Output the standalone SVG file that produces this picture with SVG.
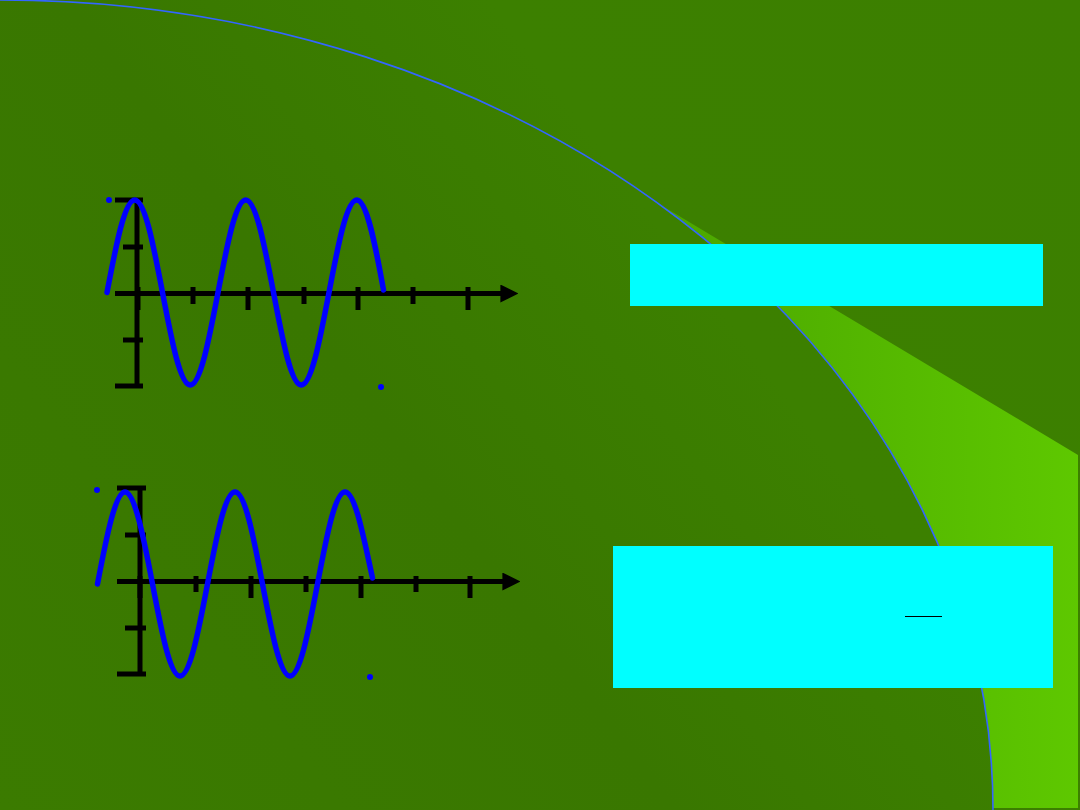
<svg xmlns="http://www.w3.org/2000/svg" width="1080" height="810" viewBox="0 0 1080 810">
<defs>
<linearGradient id="bg" x1="1080" y1="0" x2="0" y2="810" gradientUnits="userSpaceOnUse">
<stop offset="0" stop-color="#3c7f00"/>
<stop offset="0.35" stop-color="#3c8000"/>
<stop offset="0.6" stop-color="#397700"/>
<stop offset="1" stop-color="#3b7b00"/>
</linearGradient>
<linearGradient id="wedge" x1="650" y1="0" x2="1080" y2="0" gradientUnits="userSpaceOnUse">
<stop offset="0" stop-color="#4aa500"/>
<stop offset="1" stop-color="#5ec800"/>
</linearGradient>
<marker id="arr" viewBox="0 0 10 10" refX="2" refY="5" markerWidth="3.6" markerHeight="3.6" markerUnits="strokeWidth" orient="auto">
<path d="M0,0 L10,5 L0,10 z" fill="#000"/>
</marker>
</defs>
<style>
.ax{stroke:#000;stroke-width:5;fill:none}
.tk{stroke:#000;stroke-width:5;fill:none}
.wave{stroke:#0000ff;stroke-width:5.5;fill:none;stroke-linecap:round;stroke-linejoin:round}
.dot{fill:#0000ff}
.box{fill:#00ffff}
</style>
<rect x="0" y="0" width="1080" height="810" fill="url(#bg)"/>
<path d="M654,201 L1078,455 L1078,808 L993,808 A993,810 0 0 0 654,201 Z" fill="url(#wedge)"/>
<path d="M0,0 A993,810 0 0 1 993,810" fill="none" stroke="#3366ff" stroke-width="1.6"/>

<g id="plot1">
<line class="ax" x1="137" y1="199" x2="137" y2="387"/>
<line class="ax" x1="115" y1="200" x2="143" y2="200"/>
<line class="ax" x1="115" y1="386" x2="143" y2="386"/>
<line class="tk" x1="123" y1="247" x2="143" y2="247"/>
<line class="tk" x1="123" y1="340" x2="143" y2="340"/>
<line class="ax" x1="115" y1="293.5" x2="504" y2="293.5" marker-end="url(#arr)"/>
<line class="tk" x1="138" y1="287" x2="138" y2="310"/>
<line class="tk" x1="193" y1="287" x2="193" y2="304"/>
<line class="tk" x1="248" y1="287" x2="248" y2="310"/>
<line class="tk" x1="304" y1="287" x2="304" y2="304"/>
<line class="tk" x1="358" y1="287" x2="358" y2="310"/>
<line class="tk" x1="413" y1="287" x2="413" y2="304"/>
<line class="tk" x1="468" y1="287" x2="468" y2="310"/>
<path class="wave" d="M107,292.5 C116.28,243.93 124.74,200 134.75,200 S153.22,243.93 162.5,292.5 S180.24,385 190.25,385 S208.72,341.07 218,292.5 S235.74,200 245.75,200 S264.22,243.93 273.5,292.5 S291.24,385 301.25,385 S319.72,341.07 329,292.5 S346.74,200 356.75,200 S375.22,243.93 383.5,290"/>
<circle class="dot" cx="109" cy="200" r="3"/>
<circle class="dot" cx="381" cy="387" r="3"/>
</g>

<g id="plot2">
<line class="ax" x1="140" y1="487" x2="140" y2="675"/>
<line class="ax" x1="117" y1="488" x2="146" y2="488"/>
<line class="ax" x1="117" y1="674" x2="146" y2="674"/>
<line class="tk" x1="125" y1="535" x2="146" y2="535"/>
<line class="tk" x1="125" y1="628" x2="146" y2="628"/>
<line class="ax" x1="117" y1="581.5" x2="506" y2="581.5" marker-end="url(#arr)"/>
<line class="tk" x1="140" y1="576" x2="140" y2="598"/>
<line class="tk" x1="196" y1="576" x2="196" y2="592"/>
<line class="tk" x1="251" y1="576" x2="251" y2="598"/>
<line class="tk" x1="306" y1="576" x2="306" y2="592"/>
<line class="tk" x1="361" y1="576" x2="361" y2="598"/>
<line class="tk" x1="416" y1="576" x2="416" y2="592"/>
<line class="tk" x1="470" y1="576" x2="470" y2="598"/>
<path class="wave" d="M97.5,584 C106.69,535.69 115.42,492 125,492 S143.31,535.69 152.5,584 S170.08,676 180,676 S198.31,632.31 207.5,584 S225.08,492 235,492 S253.31,535.69 262.5,584 S280.08,676 290,676 S308.31,632.31 317.5,584 S335.08,492 345,492 S363.31,535.69 372.5,578"/>
<circle class="dot" cx="97" cy="490" r="3"/>
<circle class="dot" cx="370" cy="677" r="3"/>
</g>

<g id="box1">
<rect class="box" x="630" y="244" width="413" height="62"/>
</g>
<g id="box2">
<rect class="box" x="613" y="546" width="440" height="142"/>
<line x1="905" y1="616.5" x2="942" y2="616.5" stroke="#000" stroke-width="1"/>
</g>
<g id="connectors"/>
</svg>
